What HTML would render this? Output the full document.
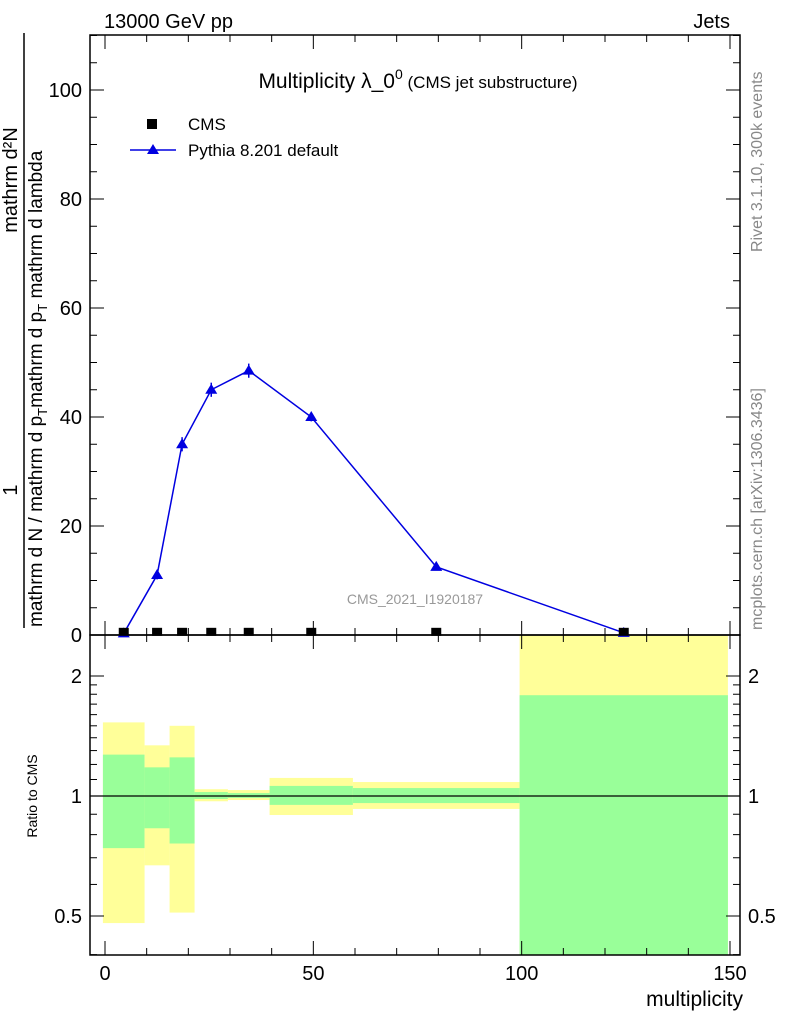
<!DOCTYPE html>
<html><head><meta charset="utf-8"><style>
body{margin:0;background:#fff}
svg{display:block;font-family:"Liberation Sans",sans-serif}
</style></head><body>
<svg id="c" width="786" height="1024" viewBox="0 0 786 1024" xmlns="http://www.w3.org/2000/svg">
<text x="104" y="28" font-size="20">13000 GeV pp</text>
<text x="730" y="28" font-size="20" text-anchor="end">Jets</text>
<text x="418" y="88" font-size="21" text-anchor="middle">Multiplicity λ_0<tspan dy="-9" font-size="14">0</tspan><tspan dy="9" font-size="17"> (CMS jet substructure)</tspan></text>
<g>
<rect x="147" y="119" width="10" height="10" fill="#000"/>
<text x="188" y="130" font-size="17">CMS</text>
<line x1="130" y1="150" x2="176" y2="150" stroke="#0000e0" stroke-width="1.5"/>
<polygon points="153,144 147,154 159,154" fill="#0000e0"/>
<text x="188" y="156" font-size="17">Pythia 8.201 default</text>
</g>
<text x="415" y="604" font-size="14" fill="#999" text-anchor="middle">CMS_2021_I1920187</text>
<text transform="translate(762,252) rotate(-90)" font-size="16" fill="#888">Rivet 3.1.10,  300k events</text>
<text transform="translate(762,630) rotate(-90)" font-size="16" fill="#888">mcplots.cern.ch [arXiv:1306.3436]</text>
<g>
<text transform="translate(42,627) rotate(-90)" font-size="19">mathrm d N / mathrm d p<tspan font-size="13" dy="5">T</tspan><tspan dy="-5">mathrm d p</tspan><tspan font-size="13" dy="5">T</tspan><tspan dy="-5"> mathrm d lambda</tspan></text>
<line x1="24" y1="33" x2="24" y2="628" stroke="#000" stroke-width="1.5"/>
<text transform="translate(17,490) rotate(-90)" font-size="20" text-anchor="middle">1</text>
<text transform="translate(17,180) rotate(-90)" font-size="20" text-anchor="middle">mathrm d²N</text>
</g>
<text transform="translate(37,796) rotate(-90)" font-size="14" text-anchor="middle">Ratio to CMS</text>
<text x="743" y="1006" font-size="21" text-anchor="end">multiplicity</text>
<g id="g"></g>
</svg>
<script>
const binEdges=[-0.5,9.5,15.5,21.5,29.5,39.5,59.5,99.5,149.5];
const xCenters=[4.5,12.5,18.5,25.5,34.5,49.5,79.5,124.5];
const pythiaVals=[0.3,11,35,45,48.5,40,12.5,0.4];
const pythiaErr=[0.3,0.8,1.3,1.3,1.3,0.8,0.5,0.2];
const cmsVals=[0.4,0.4,0.4,0.4,0.4,0.4,0.4,0.4];
const yellowHi=[1.53,1.34,1.50,1.04,1.035,1.11,1.084,3.0];
const yellowLo=[0.48,0.67,0.51,0.97,0.977,0.896,0.928,0.3];
const greenHi=[1.27,1.18,1.25,1.023,1.017,1.06,1.047,1.79];
const greenLo=[0.74,0.83,0.76,0.983,0.989,0.95,0.96,0.3];
const yTicks=[0,20,40,60,80,100];
const xTicks=[0,50,100,150];
const rTicks=[0.5,1,2];

const L=90,R=740,T=35,B=635,RB=955;
const X=v=>105+v*(625/150);
const Y=v=>635-v*5.45;
const RY=v=>Math.min(RB,Math.max(B,796-120*Math.log2(v)));
const NS="http://www.w3.org/2000/svg";
const g=document.getElementById('g');
function mk(t,a){const e=document.createElementNS(NS,t);for(const k in a)e.setAttribute(k,a[k]);g.appendChild(e);return e;}

for(let i=0;i<xCenters.length;i++){
 const x0=X(binEdges[i]),x1=X(binEdges[i+1]);
 let e=mk('rect',{x:x0,y:RY(yellowHi[i]),width:x1-x0,height:RY(yellowLo[i])-RY(yellowHi[i]),fill:'#ffff99'});
 
 
 e=mk('rect',{x:x0,y:RY(greenHi[i]),width:x1-x0,height:RY(greenLo[i])-RY(greenHi[i]),fill:'#99ff99'});
 
 
}
let e=mk('line',{x1:L,x2:R,y1:RY(1),y2:RY(1),stroke:'#000','stroke-width':1.2});



e=mk('rect',{x:L,y:T,width:R-L,height:B-T,fill:'none',stroke:'#000','stroke-width':1.5});


e=mk('rect',{x:L,y:B,width:R-L,height:RB-B,fill:'none',stroke:'#000','stroke-width':1.5});



for(let v=0;v<=110;v+=5){
 const len=v%20===0?14:7;
 mk('line',{x1:L,x2:L+len,y1:Y(v),y2:Y(v),stroke:'#000'});
 mk('line',{x1:R,x2:R-len,y1:Y(v),y2:Y(v),stroke:'#000'});
}
yTicks.forEach(v=>{e=mk('text',{x:L-8,y:Y(v)+7,'font-size':20,'text-anchor':'end'});e.textContent=v;
 
 });
for(let v=0;v<=150;v+=10){
 const len=v%50===0?14:7;
 [B,RB].forEach(yb=>{
  mk('line',{x1:X(v),x2:X(v),y1:yb,y2:yb-len,stroke:'#000'});
  mk('line',{x1:X(v),x2:X(v),y1:(yb===B?T:B),y2:(yb===B?T:B)+len,stroke:'#000'});
 });
}
xTicks.forEach(v=>{e=mk('text',{x:X(v),y:980,'font-size':20,'text-anchor':'middle'});e.textContent=v;
 
 });
[0.4,0.5,0.6,0.7,0.8,0.9,1,2].forEach(v=>{
 const len=rTicks.includes(v)?14:7;
 mk('line',{x1:L,x2:L+len,y1:RY(v),y2:RY(v),stroke:'#000'});
 mk('line',{x1:R,x2:R-len,y1:RY(v),y2:RY(v),stroke:'#000'});
});
[1.1,1.2,1.3,1.4,1.5,1.6,1.7,1.8,1.9].forEach(v=>{
 mk('line',{x1:L,x2:L+7,y1:RY(v),y2:RY(v),stroke:'#000'});
 mk('line',{x1:R,x2:R-7,y1:RY(v),y2:RY(v),stroke:'#000'});
});
rTicks.forEach(v=>{
 e=mk('text',{x:L-8,y:RY(v)+7,'font-size':20,'text-anchor':'end'});e.textContent=v;
 
 
 e=mk('text',{x:R+8,y:RY(v)+7,'font-size':20});e.textContent=v;
 
 
});

e=mk('polyline',{points:xCenters.map((x,i)=>X(x)+','+Y(pythiaVals[i])).join(' '),fill:'none',stroke:'#0000e0','stroke-width':1.5});


xCenters.forEach((x,i)=>{
 const cx=X(x),cy=Y(pythiaVals[i]);
 e=mk('line',{x1:cx,x2:cx,y1:Y(pythiaVals[i]+pythiaErr[i]),y2:Math.min(B,Y(pythiaVals[i]-pythiaErr[i])),stroke:'#0000e0','stroke-width':1.5});
 
 
 e=mk('polygon',{points:`${cx},${cy-6} ${cx-6},${cy+4} ${cx+6},${cy+4}`,fill:'#0000e0'});
 
 
});
xCenters.forEach((x,i)=>{
 e=mk('rect',{x:X(x)-5,y:Y(cmsVals[i])-5,width:10,height:8,fill:'#000'});
 
 
});
</script>
</body></html>
